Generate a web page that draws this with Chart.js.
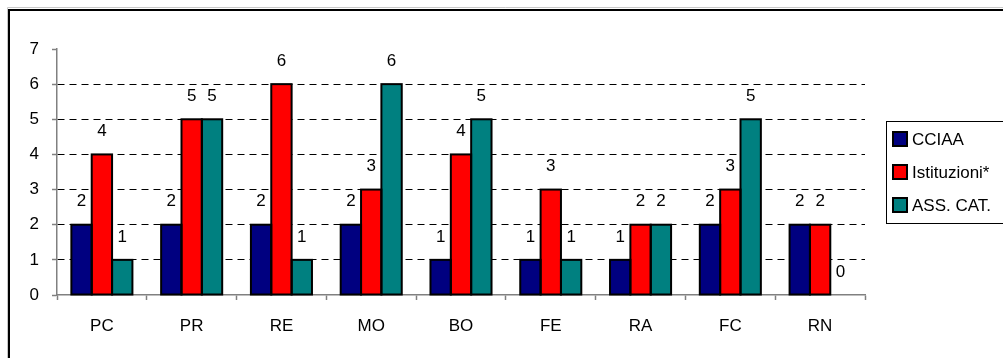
<!DOCTYPE html>
<html>
<head>
<meta charset="utf-8">
<script src="https://cdn.jsdelivr.net/npm/chart.js@4.4.1/dist/chart.umd.min.js"></script>
<style>
  html, body { margin: 0; padding: 0; background: #fff; overflow: hidden; }
  #wrap { width: 1003px; height: 358px; position: relative; }
  canvas { display: block; }
</style>
</head>
<body>
<div id="wrap"><canvas id="c" width="1003" height="358"></canvas></div>
<script>
// Province categories and the three series of counts
const categories = ['PC', 'PR', 'RE', 'MO', 'BO', 'FE', 'RA', 'FC', 'RN'];
const cciaa = [2, 2, 2, 2, 1, 1, 1, 2, 2];
const istituzioni = [4, 5, 6, 3, 4, 3, 2, 3, 2];
const assCat = [1, 5, 1, 6, 5, 1, 2, 5, 0];
const seriesNames = ['CCIAA', 'Istituzioni*', 'ASS. CAT.'];
const seriesColors = ['#000080', '#FF0000', '#008080'];
const yMin = 0, yMax = 7, yStep = 1;

const FONT = '"Liberation Sans", Arial, Helvetica, sans-serif';
const FONT_SIZE = 17;

// White page with the outer frame (top and left edges)
const framePlugin = {
  id: 'frame',
  beforeDraw(chart) {
    const ctx = chart.ctx;
    ctx.save();
    ctx.fillStyle = '#fff';
    ctx.fillRect(0, 0, chart.width, chart.height);
    ctx.strokeStyle = '#c8c8c8';
    ctx.lineWidth = 1;
    ctx.beginPath();
    ctx.moveTo(7.5, chart.height); ctx.lineTo(7.5, 7.5); ctx.lineTo(chart.width, 7.5);
    ctx.stroke();
    ctx.strokeStyle = '#000';
    ctx.lineWidth = 2;
    ctx.beginPath();
    ctx.moveTo(9, chart.height); ctx.lineTo(9, 10); ctx.lineTo(chart.width, 10);
    ctx.stroke();
    ctx.restore();
  }
};

// Black outline centred on each bar's edges, shared between neighbours
const barOutlinePlugin = {
  id: 'barOutline',
  afterDatasetsDraw(chart) {
    const ctx = chart.ctx;
    ctx.save();
    ctx.strokeStyle = '#000';
    ctx.lineWidth = 2;
    chart.data.datasets.forEach((ds, di) => {
      const meta = chart.getDatasetMeta(di);
      meta.data.forEach((bar) => {
        const p = bar.getProps(['x', 'y', 'base', 'width'], true);
        const h = p.base - p.y;
        if (h <= 0) return;
        ctx.strokeRect(p.x - p.width / 2, p.y, p.width, h);
      });
    });
    ctx.restore();
  }
};

// Value written above every bar
const valueLabelPlugin = {
  id: 'valueLabels',
  afterDatasetsDraw(chart) {
    const ctx = chart.ctx;
    ctx.save();
    ctx.font = FONT_SIZE + 'px ' + FONT;
    ctx.fillStyle = '#000';
    ctx.textAlign = 'center';
    ctx.textBaseline = 'middle';
    chart.data.datasets.forEach((ds, di) => {
      const meta = chart.getDatasetMeta(di);
      meta.data.forEach((bar, i) => {
        ctx.fillText(String(ds.data[i]), bar.x, bar.y - 23);
      });
    });
    ctx.restore();
  }
};

// Boxed legend on the right
const legendBoxPlugin = {
  id: 'legendBox',
  afterDraw(chart) {
    const ctx = chart.ctx;
    const left = 886, top = 121, rowGap = 33, firstRow = 139;
    const n = chart.data.datasets.length;
    ctx.save();
    ctx.strokeStyle = '#000';
    ctx.lineWidth = 1;
    ctx.strokeRect(left + 0.5, top + 0.5, 200, firstRow - top + (n - 1) * rowGap + 18);
    ctx.font = FONT_SIZE + 'px ' + FONT;
    ctx.textBaseline = 'middle';
    ctx.textAlign = 'left';
    chart.data.datasets.forEach((ds, i) => {
      const y = firstRow + i * rowGap;
      ctx.fillStyle = ds.backgroundColor;
      ctx.fillRect(893, y - 7, 14, 14);
      ctx.lineWidth = 2;
      ctx.strokeStyle = '#000';
      ctx.strokeRect(893, y - 7, 14, 14);
      ctx.fillStyle = '#000';
      ctx.fillText(ds.label, 912, y + 1);
    });
    ctx.restore();
  }
};

const seriesData = [cciaa, istituzioni, assCat];

new Chart(document.getElementById('c'), {
  type: 'bar',
  data: {
    labels: categories,
    datasets: seriesData.map((vals, i) => ({
      label: seriesNames[i],
      data: vals,
      backgroundColor: seriesColors[i],
      borderWidth: 0,
      inflateAmount: 0,
      categoryPercentage: 0.68,
      barPercentage: 1.0
    }))
  },
  options: {
    responsive: false,
    animation: false,
    devicePixelRatio: 1,
    layout: { padding: { left: 0, top: 49, right: 138, bottom: 0 } },
    plugins: {
      legend: { display: false },
      tooltip: { enabled: false },
      title: { display: false }
    },
    scales: {
      x: {
        afterFit(scale) { scale.height = 63; },
        grid: {
          offset: true,
          drawOnChartArea: false,
          drawTicks: true,
          tickLength: 5,
          tickColor: '#808080',
          tickWidth: 1.5
        },
        border: { display: true, color: '#808080', width: 1.5 },
        ticks: {
          color: '#000',
          font: { family: FONT, size: FONT_SIZE },
          padding: 16,
          maxRotation: 0,
          autoSkip: false
        }
      },
      y: {
        min: yMin,
        max: yMax,
        afterFit(scale) { scale.width = 57; },
        grid: {
          color: ctx => (ctx.tick && (ctx.tick.value === yMin || ctx.tick.value === yMax)) ? 'rgba(0,0,0,0)' : '#000',
          lineWidth: 1,
          borderDash: [7, 5],
          drawTicks: true,
          tickLength: 5,
          tickColor: '#808080',
          tickWidth: 1.5,
          tickBorderDash: []
        },
        border: { display: true, color: '#808080', width: 1.5, dash: [7, 5] },
        ticks: {
          stepSize: yStep,
          color: '#000',
          font: { family: FONT, size: FONT_SIZE },
          padding: 13
        }
      }
    }
  },
  plugins: [framePlugin, barOutlinePlugin, valueLabelPlugin, legendBoxPlugin]
});
</script>
</body>
</html>
